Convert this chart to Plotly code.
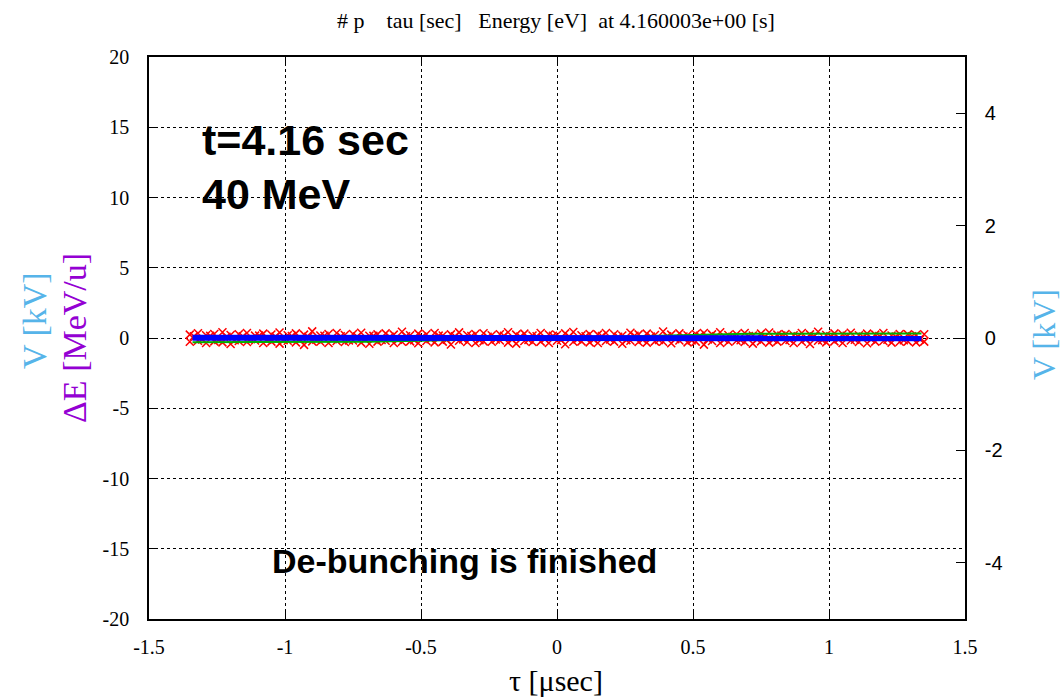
import plotly.graph_objects as go

# ---- data ----
tau = [-1.35, -1.32, -1.29, -1.26, -1.23, -1.20, -1.17, -1.14, -1.11, -1.08,
       -1.05, -1.02, -0.99, -0.96, -0.93, -0.90, -0.87, -0.84, -0.81, -0.78,
       -0.75, -0.72, -0.69, -0.66, -0.63, -0.60, -0.57, -0.54, -0.51, -0.48,
       -0.45, -0.42, -0.39, -0.36, -0.33, -0.30, -0.27, -0.24, -0.21, -0.18,
       -0.15, -0.12, -0.09, -0.06, -0.03, 0.00, 0.03, 0.06, 0.09, 0.12,
       0.15, 0.18, 0.21, 0.24, 0.27, 0.30, 0.33, 0.36, 0.39, 0.42,
       0.45, 0.48, 0.51, 0.54, 0.57, 0.60, 0.63, 0.66, 0.69, 0.72,
       0.75, 0.78, 0.81, 0.84, 0.87, 0.90, 0.93, 0.96, 0.99, 1.02,
       1.05, 1.08, 1.11, 1.14, 1.17, 1.20, 1.23, 1.26, 1.29, 1.32, 1.35]

tau_mid = [-1.335, -1.305, -1.275, -1.245, -1.215, -1.185, -1.155, -1.125, -1.095, -1.065,
           -1.035, -1.005, -0.975, -0.945, -0.915, -0.885, -0.855, -0.825, -0.795, -0.765,
           -0.735, -0.705, -0.675, -0.645, -0.615, -0.585, -0.555, -0.525, -0.495, -0.465,
           -0.435, -0.405, -0.375, -0.345, -0.315, -0.285, -0.255, -0.225, -0.195, -0.165,
           -0.135, -0.105, -0.075, -0.045, -0.015, 0.015, 0.045, 0.075, 0.105, 0.135,
           0.165, 0.195, 0.225, 0.255, 0.285, 0.315, 0.345, 0.375, 0.405, 0.435,
           0.465, 0.495, 0.525, 0.555, 0.585, 0.615, 0.645, 0.675, 0.705, 0.735,
           0.765, 0.795, 0.825, 0.855, 0.885, 0.915, 0.945, 0.975, 1.005, 1.035,
           1.065, 1.095, 1.125, 1.155, 1.185, 1.215, 1.245, 1.275, 1.305, 1.335]

dE_upper = [0.24, 0.34, 0.19, 0.29, 0.41, 0.22, 0.27, 0.36, 0.17, 0.31,
            0.25, 0.39, 0.20, 0.33, 0.24, 0.47, 0.18, 0.28, 0.35, 0.22,
            0.29, 0.38, 0.16, 0.26, 0.33, 0.24, 0.44, 0.20, 0.31, 0.27,
            0.36, 0.18, 0.26, 0.40, 0.22, 0.29, 0.34, 0.20, 0.27, 0.41,
            0.24, 0.31, 0.18, 0.36, 0.25, 0.22, 0.33, 0.43, 0.20, 0.29,
            0.24, 0.35, 0.27, 0.18, 0.38, 0.26, 0.31, 0.22, 0.46, 0.24,
            0.33, 0.20, 0.29, 0.36, 0.26, 0.41, 0.22, 0.27, 0.35, 0.18,
            0.31, 0.39, 0.24, 0.29, 0.20, 0.36, 0.26, 0.44, 0.22, 0.33,
            0.27, 0.38, 0.20, 0.31, 0.24, 0.35, 0.18, 0.29, 0.26, 0.22, 0.27]

dE_lower = [-0.27, -0.20, -0.36, -0.24, -0.31, -0.43, -0.22, -0.29, -0.18, -0.35,
            -0.26, -0.40, -0.20, -0.31, -0.49, -0.24, -0.27, -0.36, -0.22, -0.29,
            -0.18, -0.33, -0.41, -0.26, -0.20, -0.35, -0.27, -0.24, -0.38, -0.22,
            -0.31, -0.26, -0.46, -0.20, -0.29, -0.36, -0.24, -0.27, -0.18, -0.33,
            -0.40, -0.22, -0.29, -0.26, -0.35, -0.20, -0.44, -0.27, -0.24, -0.31,
            -0.36, -0.22, -0.26, -0.41, -0.20, -0.29, -0.33, -0.24, -0.27, -0.38,
            -0.18, -0.31, -0.26, -0.47, -0.22, -0.35, -0.27, -0.20, -0.29, -0.40,
            -0.24, -0.33, -0.26, -0.22, -0.36, -0.27, -0.43, -0.20, -0.31, -0.24,
            -0.35, -0.18, -0.29, -0.38, -0.26, -0.22, -0.33, -0.27, -0.24, -0.31, -0.26]

dE_mid = [0.12, -0.10, 0.15, -0.14, 0.09, -0.16, 0.13, -0.08, 0.17, -0.12,
          0.10, -0.15, 0.14, -0.11, 0.08, -0.13, 0.16, -0.09, 0.12, -0.17,
          0.11, -0.10, 0.15, -0.14, 0.09, -0.12, 0.13, -0.16, 0.10, -0.08,
          0.17, -0.13, 0.12, -0.10, 0.14, -0.15, 0.09, -0.11, 0.16, -0.12,
          0.10, -0.14, 0.13, -0.09, 0.15, -0.16, 0.11, -0.10, 0.12, -0.13,
          0.14, -0.11, 0.09, -0.15, 0.16, -0.12, 0.10, -0.14, 0.13, -0.08,
          0.11, -0.17, 0.15, -0.10, 0.12, -0.13, 0.09, -0.16, 0.14, -0.11,
          0.10, -0.12, 0.17, -0.14, 0.13, -0.09, 0.11, -0.15, 0.12, -0.10,
          0.16, -0.13, 0.09, -0.11, 0.14, -0.12, 0.10, -0.16, 0.13, -0.10]

green_tau = [-1.34, -0.70, 0.00, 0.70, 1.34]
green_dE = [-0.30, -0.26, 0.00, 0.30, 0.32]

blue_tau = [-1.34, -0.90, -0.45, 0.00, 0.45, 0.90, 1.34]
blue_dE = [0.02, 0.01, 0.00, 0.00, -0.01, -0.01, -0.02]

x_ticks = [-1.5, -1, -0.5, 0, 0.5, 1, 1.5]
x_labels = ["-1.5", "-1", "-0.5", "0", "0.5", "1", "1.5"]
y_ticks = [-20, -15, -10, -5, 0, 5, 10, 15, 20]
y_labels = ["-20", "-15", "-10", "-5", "0", "5", "10", "15", "20"]
y2_ticks = [-4, -2, 0, 2, 4]
y2_labels = ["-4", "-2", "0", "2", "4"]

title_text = "# p    tau [sec]   Energy [eV]  at 4.160003e+00 [s]"

SERIF = "Liberation Serif, Times New Roman, serif"
SANS = "Liberation Sans, Arial, sans-serif"
SKY = "#56B4E9"
PURPLE = "#9400D3"

fig = go.Figure()

fig.add_trace(go.Scatter(
    x=tau + tau + tau_mid, y=dE_upper + dE_lower + dE_mid, mode="markers",
    marker=dict(symbol="x-thin", size=8, line=dict(color="#FF0000", width=1.5)),
    showlegend=False, hoverinfo="skip"))

fig.add_trace(go.Scatter(
    x=green_tau, y=green_dE, mode="lines",
    line=dict(color="#00B000", width=2), showlegend=False))

fig.add_trace(go.Scatter(
    x=blue_tau, y=blue_dE, mode="lines",
    line=dict(color="#0000FF", width=6), showlegend=False))

# dummy trace to activate y2
fig.add_trace(go.Scatter(x=[None], y=[None], yaxis="y2", showlegend=False))

L, R, T, B = 149, 97, 57, 78
W, H = 1062, 697
pw, ph = W - L - R, H - T - B

def px(x):
    return (x - L) / pw

def py(y):
    return (H - B - y) / ph

fig.update_layout(
    width=W, height=H,
    margin=dict(l=L, r=R, t=T, b=B),
    paper_bgcolor="white", plot_bgcolor="white",
    title=dict(text=title_text, x=556 / W, xanchor="center",
               y=1 - 20 / H, yanchor="middle",
               font=dict(family=SERIF, size=22, color="black")),
    xaxis=dict(range=[-1.5, 1.5], tickvals=x_ticks, ticktext=x_labels,
               showgrid=True, gridcolor="black", griddash="dot", gridwidth=1,
               zeroline=False, showline=True, linecolor="black", linewidth=1.5,
               mirror="ticks", ticks="inside", ticklen=8, tickcolor="black",
               ticklabelstandoff=9,
               tickfont=dict(family=SERIF, size=20, color="black")),
    yaxis=dict(range=[-20, 20], tickvals=y_ticks, ticktext=y_labels,
               showgrid=True, gridcolor="black", griddash="dot", gridwidth=1,
               zeroline=False, showline=True, linecolor="black", linewidth=1.5,
               ticks="inside", ticklen=8, tickcolor="black",
               ticklabelstandoff=14,
               tickfont=dict(family=SERIF, size=20, color="black")),
    yaxis2=dict(range=[-5, 5], tickvals=y2_ticks, ticktext=y2_labels,
                overlaying="y", side="right",
                showgrid=False, zeroline=False, showline=True, linecolor="black",
                linewidth=1.5, ticks="inside", ticklen=9, tickcolor="black",
                ticklabelstandoff=14,
                tickfont=dict(family=SANS, size=20, color="black")),
)

BOLD = dict(family=SANS, color="black", weight="bold")
ann = [
    dict(text="t=4.16 sec", x=px(200), y=py(140), xanchor="left", yanchor="middle",
         font=dict(BOLD, size=43)),
    dict(text="40 MeV", x=px(200), y=py(194), xanchor="left", yanchor="middle",
         font=dict(BOLD, size=43)),
    dict(text="De-bunching is finished", x=px(464), y=py(561), xanchor="center",
         yanchor="middle", font=dict(BOLD, size=34)),
    dict(text="τ [μsec]", x=px(556), y=py(680), xanchor="center", yanchor="middle",
         font=dict(family=SERIF, size=30, color="black")),
    dict(text="V [kV]", x=px(34), y=py(321), xanchor="center", yanchor="middle",
         textangle=-90, font=dict(family=SERIF, size=34, color=SKY)),
    dict(text="ΔE [MeV/u]", x=px(74), y=py(338), xanchor="center", yanchor="middle",
         textangle=-90, font=dict(family=SERIF, size=34, color=PURPLE)),
    dict(text="V [kV]", x=px(1044), y=py(335), xanchor="center", yanchor="middle",
         textangle=-90, font=dict(family=SERIF, size=32, color=SKY)),
]
for a in ann:
    a.update(xref="paper", yref="paper", showarrow=False)
fig.update_layout(annotations=ann)

fig.write_html("out.html")
